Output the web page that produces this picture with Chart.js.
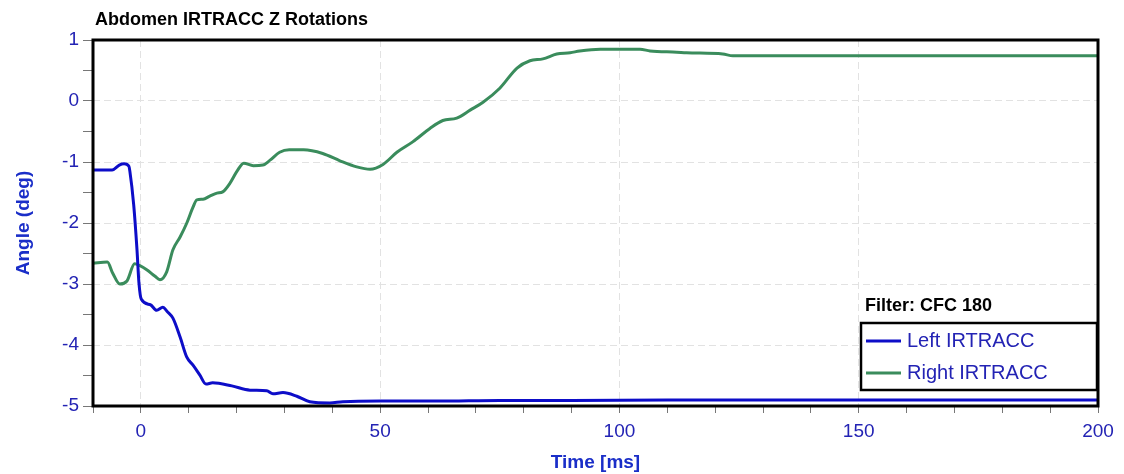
<!DOCTYPE html>
<html>
<head>
<meta charset="utf-8">
<script src="https://cdn.jsdelivr.net/npm/chart.js@4.4.1/dist/chart.umd.min.js"></script>
<style>
  html, body { margin: 0; padding: 0; background: #fff; }
  #wrap { width: 1124px; height: 474px; position: relative; }
</style>
</head>
<body>
<div id="wrap"><canvas id="myChart" width="1124" height="474"></canvas></div>
<script>
const chartTitle = "Abdomen IRTRACC Z Rotations";
const filterLabel = "Filter: CFC 180";
const seriesNames = ["Left IRTRACC", "Right IRTRACC"];

const leftTime = [-10, -6, -4.5, -3.5, -2.5, -2.3, -1.5, -0.8, -0.4, 0.1, 2, 3.3, 4.6, 5.5, 6.7, 8.2, 9.6, 10.9, 12.3, 13.6, 15, 19, 22.8, 26.3, 27.6, 29.7, 32.6, 35.3, 39.5, 42.2, 50, 62, 75, 90, 110, 130, 160, 200];
const leftAngle = [-1.13, -1.13, -1.05, -1.03, -1.07, -1.15, -1.7, -2.45, -2.98, -3.25, -3.34, -3.43, -3.38, -3.45, -3.56, -3.87, -4.2, -4.33, -4.49, -4.64, -4.62, -4.67, -4.74, -4.75, -4.8, -4.78, -4.84, -4.93, -4.95, -4.93, -4.92, -4.92, -4.91, -4.91, -4.9, -4.9, -4.9, -4.9];

const rightTime = [-10, -7, -5.9, -4.4, -2.9, -1.3, -0.2, 1.3, 2.9, 4.0, 5.4, 6.7, 8.2, 9.6, 10.9, 11.7, 13, 14.4, 15.9, 17.1, 18.6, 20.1, 21.5, 23.5, 25.5, 27, 29, 31, 34, 38, 41.6, 45.1, 47.9, 50.6, 53.5, 56.8, 60.4, 63.1, 66, 68.8, 71.5, 75, 78.6, 81.3, 84, 86.9, 89.7, 91.7, 96, 100, 104.3, 106.4, 112, 114, 121.6, 123.7, 150, 200];
const rightAngle = [-2.66, -2.64, -2.82, -3.0, -2.95, -2.67, -2.70, -2.77, -2.87, -2.93, -2.80, -2.44, -2.23, -2.0, -1.74, -1.62, -1.61, -1.56, -1.51, -1.49, -1.35, -1.15, -1.02, -1.06, -1.05, -0.97, -0.84, -0.80, -0.80, -0.86, -0.98, -1.08, -1.12, -1.04, -0.84, -0.67, -0.45, -0.32, -0.28, -0.15, -0.02, 0.21, 0.54, 0.66, 0.69, 0.77, 0.79, 0.82, 0.85, 0.85, 0.85, 0.82, 0.80, 0.79, 0.77, 0.74, 0.74, 0.74];

const blue = "#0d0dc8";
const green = "#3a8c5c";
const labelBlue = "#2323b4";
const FONT = "Arial, 'Liberation Sans', sans-serif";

const toPoints = (xs, ys) => xs.map((x, i) => ({ x: x, y: ys[i] }));

const frameAndLegend = {
  id: "frameAndLegend",
  afterDraw(chart) {
    const ctx = chart.ctx;
    const a = chart.chartArea;
    ctx.save();
    // frame
    ctx.strokeStyle = "#000";
    ctx.lineWidth = 3;
    ctx.strokeRect(a.left, a.top, a.right - a.left, a.bottom - a.top);
    // title
    ctx.fillStyle = "#000";
    ctx.font = "bold 18px " + FONT;
    ctx.textBaseline = "middle";
    ctx.textAlign = "left";
    ctx.fillText(chartTitle, 95, 20);
    // filter label
    ctx.font = "bold 18px " + FONT;
    ctx.fillText(filterLabel, 865, 306);
    // legend box
    ctx.fillStyle = "#fff";
    ctx.fillRect(861, 323, 236, 67);
    ctx.lineWidth = 2.5;
    ctx.strokeRect(861, 323, 236, 67);
    const rows = [[seriesNames[0], blue, 341], [seriesNames[1], green, 373]];
    ctx.font = "20px " + FONT;
    rows.forEach(([name, col, y]) => {
      ctx.strokeStyle = col;
      ctx.lineWidth = 3;
      ctx.beginPath();
      ctx.moveTo(866, y);
      ctx.lineTo(901, y);
      ctx.stroke();
      ctx.fillStyle = labelBlue;
      ctx.fillText(name, 907, y);
    });
    ctx.restore();
  },
};

new Chart(document.getElementById("myChart"), {
  type: "line",
  data: {
    datasets: [
      {
        label: seriesNames[0],
        data: toPoints(leftTime, leftAngle),
        borderColor: blue,
        backgroundColor: blue,
        borderWidth: 3,
        pointRadius: 0,
        cubicInterpolationMode: "monotone",
      },
      {
        label: seriesNames[1],
        data: toPoints(rightTime, rightAngle),
        borderColor: green,
        backgroundColor: green,
        borderWidth: 3,
        pointRadius: 0,
        cubicInterpolationMode: "monotone",
      },
    ],
  },
  options: {
    responsive: false,
    animation: false,
    layout: { padding: { top: 40, right: 26, left: 0, bottom: 0 } },
    plugins: {
      legend: { display: false },
      tooltip: { enabled: false },
    },
    scales: {
      x: {
        type: "linear",
        min: -10,
        max: 200,
        afterFit: (s) => { s.height = 68; },
        afterBuildTicks: (s) => {
          const t = [];
          for (let v = -10; v <= 200; v += 10) t.push({ value: v });
          s.ticks = t;
        },
        ticks: {
          autoSkip: false,
          maxRotation: 0,
          color: labelBlue,
          font: { size: 19, family: FONT },
          padding: 7,
          callback: (v) => (v % 50 === 0 ? String(v) : ""),
        },
        grid: {
          color: (c) => (c.tick && c.tick.value % 50 === 0 && c.tick.value > -10 && c.tick.value < 200 ? "#e2e2e2" : "rgba(0,0,0,0)"),
          tickColor: "#777",
          tickLength: 7,
          lineWidth: 1,
        },
        border: { display: false, dash: [7, 4] },
        title: {
          display: true,
          text: "Time [ms]",
          color: "#1a2ec8",
          font: { size: 19, weight: "bold", family: FONT },
          padding: { top: 0, bottom: 0 },
        },
      },
      y: {
        min: -5,
        max: 1,
        afterFit: (s) => { s.width = 93; },
        afterBuildTicks: (s) => {
          const t = [];
          for (let v = -5; v <= 1.001; v += 0.5) t.push({ value: Math.round(v * 10) / 10 });
          s.ticks = t;
        },
        ticks: {
          autoSkip: false,
          color: labelBlue,
          font: { size: 19, family: FONT },
          padding: 4,
          callback: (v) => (Number.isInteger(v) ? String(v) : ""),
        },
        grid: {
          color: (c) => (c.tick && Number.isInteger(c.tick.value) && c.tick.value > -5 && c.tick.value < 1 ? "#e2e2e2" : "rgba(0,0,0,0)"),
          tickColor: "#777",
          tickLength: 10,
          lineWidth: 1,
        },
        border: { display: false, dash: [7, 4] },
        title: {
          display: true,
          text: "Angle (deg)",
          color: "#1a2ec8",
          font: { size: 19, weight: "bold", family: FONT },
          padding: { top: 12, bottom: 0 },
        },
      },
    },
  },
  plugins: [frameAndLegend],
});
</script>
</body>
</html>
